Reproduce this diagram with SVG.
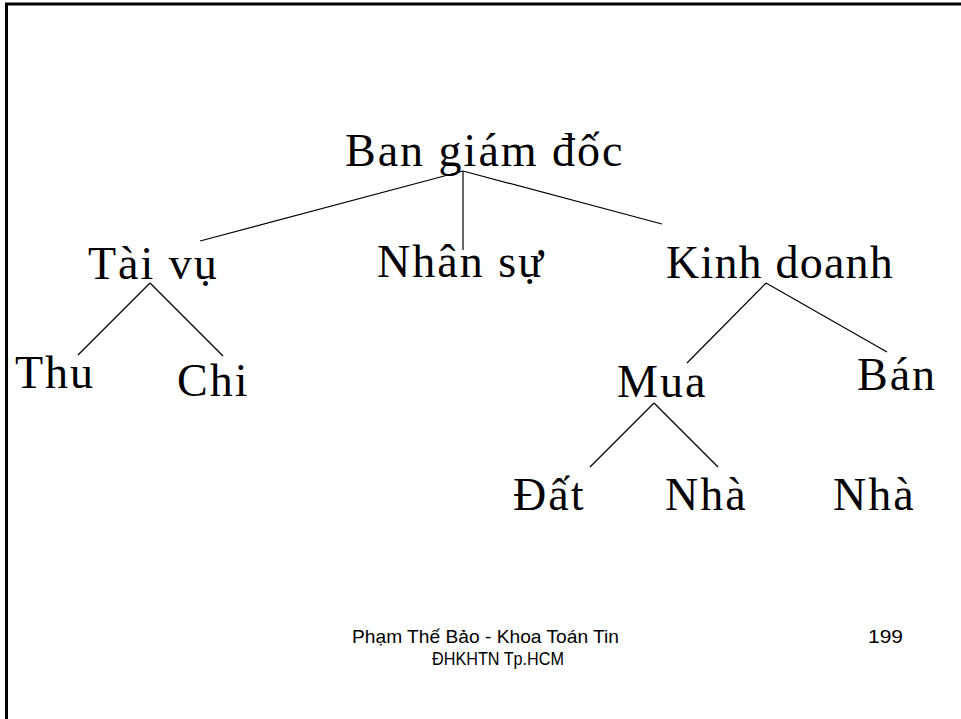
<svg xmlns="http://www.w3.org/2000/svg" width="961" height="719" viewBox="0 0 961 719">
<style>
.n{font-family:"Liberation Serif","Times New Roman",serif;font-size:46px;fill:#000;letter-spacing:2px}
.f{font-family:"Liberation Sans",Arial,sans-serif;font-size:19px;fill:#000}
.c line{stroke:#000;stroke-width:1.2}
.b{stroke:#000;stroke-width:3;fill:none}
</style>
<rect width="961" height="719" fill="#fff"/>
<path class="b" d="M6.5,719 V4 H961"/>
<g class="c" id="connectors">
<line x1="463" y1="171" x2="200" y2="241"/>
<line x1="463" y1="171" x2="463" y2="250"/>
<line x1="463" y1="171" x2="662" y2="224"/>
<line x1="150" y1="283" x2="78" y2="355"/>
<line x1="150" y1="283" x2="223" y2="356"/>
<line x1="766" y1="283" x2="687" y2="363"/>
<line x1="766" y1="283" x2="887" y2="352"/>
<line x1="654" y1="403" x2="590" y2="467"/>
<line x1="654" y1="403" x2="718" y2="467"/>
</g>
<g id="ban-giam-doc"><text class="n" x="345" y="166">Ban giám đốc</text></g>
<g id="tai-vu"><text class="n" x="88" y="279">Tài vụ</text></g>
<g id="nhan-su"><text class="n" x="377" y="277">Nhân sự</text></g>
<g id="kinh-doanh"><text class="n" x="666" y="278" style="letter-spacing:1.2px">Kinh doanh</text></g>
<g id="thu"><text class="n" x="15" y="388">Thu</text></g>
<g id="chi"><text class="n" x="177" y="396">Chi</text></g>
<g id="mua"><text class="n" x="617" y="397">Mua</text></g>
<g id="ban"><text class="n" x="857" y="390">Bán</text></g>
<g id="dat"><text class="n" x="513" y="510">Đất</text></g>
<g id="nha1"><text class="n" x="665" y="510">Nhà</text></g>
<g id="nha2"><text class="n" x="833" y="510">Nhà</text></g>
<g id="footer">
<text class="f" x="352" y="643" textLength="267" lengthAdjust="spacingAndGlyphs">Phạm Thế Bảo - Khoa Toán Tin</text>
<text class="f" x="432" y="665" textLength="132" lengthAdjust="spacingAndGlyphs">ĐHKHTN Tp.HCM</text>
<text class="f" x="868" y="643" textLength="35" lengthAdjust="spacingAndGlyphs">199</text>
</g>
</svg>
